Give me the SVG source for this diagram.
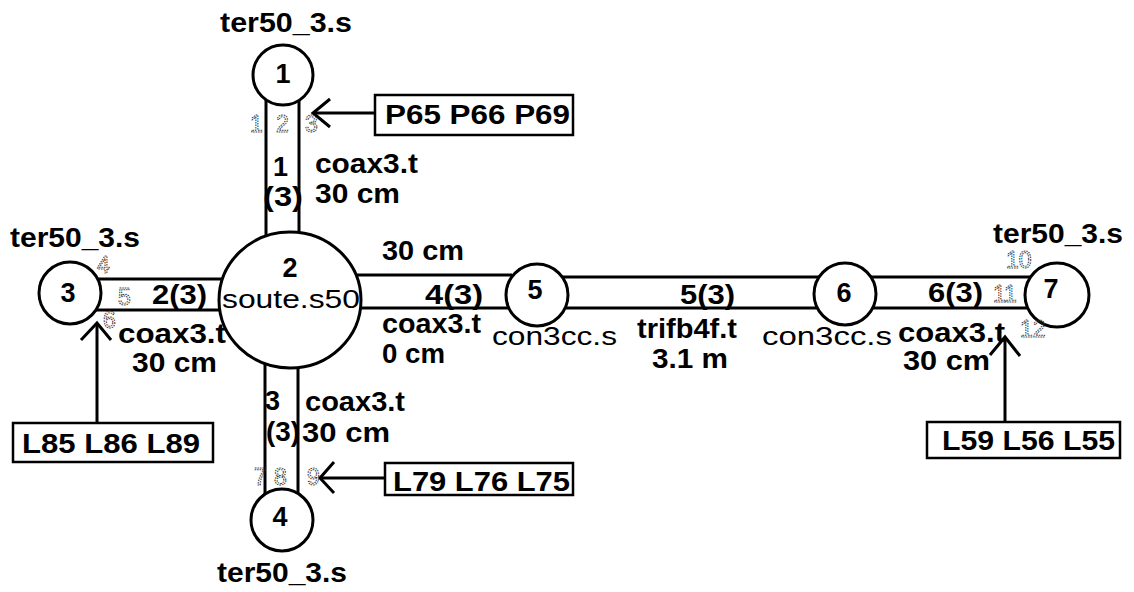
<svg xmlns="http://www.w3.org/2000/svg" width="1134" height="592" viewBox="0 0 1134 592">
<style>
.t{font-family:"Liberation Sans",Arial,sans-serif;font-size:27px;font-weight:bold;fill:#000}
.r{font-family:"Liberation Sans",Arial,sans-serif;font-size:26px;font-weight:normal;fill:#000}
.s{font-family:"Liberation Sans",Arial,sans-serif;font-size:23px;fill:none;stroke:#333;stroke-width:1;stroke-dasharray:1.5 1}
.ln{stroke:#000;stroke-width:3;fill:none}
.ar{stroke:#000;stroke-width:3;fill:none;stroke-linejoin:miter}
.nd{stroke:#000;stroke-width:3;fill:#fff}
.bx{stroke:#000;stroke-width:2.5;fill:#fff}
.c{text-anchor:middle}
</style>
<rect width="1134" height="592" fill="#fff"/>
<g id="connectors">
  <line class="ln" x1="266" y1="100" x2="266" y2="245"/>
  <line class="ln" x1="299" y1="100" x2="299" y2="245"/>
  <line class="ln" x1="95" y1="279" x2="230" y2="279"/>
  <line class="ln" x1="95" y1="310" x2="230" y2="310"/>
  <line class="ln" x1="265" y1="355" x2="265" y2="495"/>
  <line class="ln" x1="298" y1="355" x2="298" y2="495"/>
  <line class="ln" x1="350" y1="275" x2="512" y2="275"/>
  <line class="ln" x1="350" y1="308" x2="512" y2="308"/>
  <line class="ln" x1="562" y1="277" x2="820" y2="277"/>
  <line class="ln" x1="562" y1="308" x2="820" y2="308"/>
  <line class="ln" x1="870" y1="277" x2="1032" y2="277"/>
  <line class="ln" x1="870" y1="308" x2="1032" y2="308"/>
  <line class="ln" x1="375" y1="113" x2="313" y2="113"/>
  <polyline class="ar" points="330,99 313,113 330,127"/>
  <line class="ln" x1="97" y1="423" x2="97" y2="323"/>
  <polyline class="ar" points="81,340 97,323 111,340"/>
  <line class="ln" x1="385" y1="478" x2="320" y2="478"/>
  <polyline class="ar" points="334,462 320,478 334,493"/>
  <line class="ln" x1="1005" y1="422" x2="1005" y2="337"/>
  <polyline class="ar" points="990,355 1005,337 1020,356"/>
</g>
<g id="node1">
  <circle class="nd" cx="283" cy="75" r="30"/>
  <text class="t c" x="283" y="83">1</text>
  <text class="t" x="220" y="32" textLength="132" lengthAdjust="spacingAndGlyphs">ter50_3.s</text>
</g>
<g id="node2">
  <ellipse class="nd" cx="290" cy="300" rx="71" ry="68"/>
  <text class="t c" x="290" y="277">2</text>
  <text class="r" x="222" y="308" textLength="138" lengthAdjust="spacingAndGlyphs">soute.s50</text>
</g>
<g id="node3">
  <circle class="nd" cx="70" cy="293" r="31"/>
  <text class="t c" x="68" y="302">3</text>
  <text class="t" x="10" y="247" textLength="130" lengthAdjust="spacingAndGlyphs">ter50_3.s</text>
</g>
<g id="node4">
  <circle class="nd" cx="282" cy="520" r="31"/>
  <text class="t c" x="280" y="526">4</text>
  <text class="t" x="217" y="582" textLength="130" lengthAdjust="spacingAndGlyphs">ter50_3.s</text>
</g>
<g id="node5">
  <circle class="nd" cx="537" cy="295" r="31"/>
  <text class="t c" x="535" y="299">5</text>
  <text class="r" x="492" y="345" textLength="125" lengthAdjust="spacingAndGlyphs">con3cc.s</text>
</g>
<g id="node6">
  <circle class="nd" cx="845" cy="294" r="31"/>
  <text class="t c" x="844" y="302">6</text>
  <text class="r" x="762" y="345" textLength="130" lengthAdjust="spacingAndGlyphs">con3cc.s</text>
</g>
<g id="node7">
  <circle class="nd" cx="1057" cy="295" r="32"/>
  <text class="t c" x="1051" y="298">7</text>
  <text class="t" x="993" y="243" textLength="130" lengthAdjust="spacingAndGlyphs">ter50_3.s</text>
</g>
<g id="labels">
  <text class="t" x="273" y="176" font-size="24">1</text>
  <text class="t" x="263" y="206" font-size="23" textLength="40" lengthAdjust="spacingAndGlyphs">(3)</text>
  <text class="t" x="315" y="173" textLength="103" lengthAdjust="spacingAndGlyphs">coax3.t</text>
  <text class="t" x="315" y="203" textLength="85" lengthAdjust="spacingAndGlyphs">30 cm</text>
  <text class="t" x="152" y="304" textLength="55" lengthAdjust="spacingAndGlyphs">2(3)</text>
  <text class="t" x="118" y="343" textLength="108" lengthAdjust="spacingAndGlyphs">coax3.t</text>
  <text class="t" x="132" y="372" textLength="85" lengthAdjust="spacingAndGlyphs">30 cm</text>
  <text class="t" x="265" y="410">3</text>
  <text class="t" x="266" y="441" textLength="34" lengthAdjust="spacingAndGlyphs">(3)</text>
  <text class="t" x="305" y="411" textLength="100" lengthAdjust="spacingAndGlyphs">coax3.t</text>
  <text class="t" x="302" y="442" textLength="88" lengthAdjust="spacingAndGlyphs">30 cm</text>
  <text class="t" x="382" y="260" textLength="82" lengthAdjust="spacingAndGlyphs">30 cm</text>
  <text class="t" x="425" y="304" textLength="58" lengthAdjust="spacingAndGlyphs">4(3)</text>
  <text class="t" x="382" y="333" textLength="99" lengthAdjust="spacingAndGlyphs">coax3.t</text>
  <text class="t" x="382" y="363" textLength="63" lengthAdjust="spacingAndGlyphs">0 cm</text>
  <text class="t" x="680" y="304" textLength="55" lengthAdjust="spacingAndGlyphs">5(3)</text>
  <text class="t" x="637" y="338" textLength="100" lengthAdjust="spacingAndGlyphs">trifb4f.t</text>
  <text class="t" x="652" y="368" textLength="76" lengthAdjust="spacingAndGlyphs">3.1 m</text>
  <text class="t" x="928" y="302" textLength="55" lengthAdjust="spacingAndGlyphs">6(3)</text>
  <text class="t" x="898" y="342" font-size="22" textLength="107" lengthAdjust="spacingAndGlyphs">coax3.t</text>
  <text class="t" x="903" y="370" font-size="22" textLength="87" lengthAdjust="spacingAndGlyphs">30 cm</text>
  <text class="s" x="250" y="132">1</text>
  <text class="s" x="276" y="132">2</text>
  <text class="s" x="305" y="132">3</text>
  <text class="s" x="97" y="273">4</text>
  <text class="s" x="118" y="305">5</text>
  <text class="s" x="103" y="328">6</text>
  <text class="s" x="254" y="485">7</text>
  <text class="s" x="274" y="485">8</text>
  <text class="s" x="307" y="485">9</text>
  <text class="s" x="1006" y="268">10</text>
  <text class="s" x="993" y="302">11</text>
  <text class="s" x="1020" y="337">12</text>
</g>
<g id="box-p65">
  <rect class="bx" x="375" y="95" width="198" height="40"/>
  <text class="t" x="385" y="124" textLength="185" lengthAdjust="spacingAndGlyphs">P65 P66 P69</text>
</g>
<g id="box-l85">
  <rect class="bx" x="13" y="423" width="200" height="39"/>
  <text class="t" x="22" y="453" textLength="178" lengthAdjust="spacingAndGlyphs">L85 L86 L89</text>
</g>
<g id="box-l79">
  <rect class="bx" x="385" y="463" width="188" height="32"/>
  <text class="t" x="393" y="491" textLength="177" lengthAdjust="spacingAndGlyphs">L79 L76 L75</text>
</g>
<g id="box-l59">
  <rect class="bx" x="927" y="422" width="193" height="36"/>
  <text class="t" x="942" y="450" textLength="173" lengthAdjust="spacingAndGlyphs">L59 L56 L55</text>
</g>
</svg>
